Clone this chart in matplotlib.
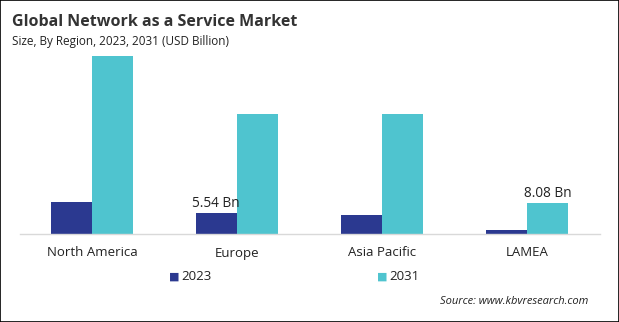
import numpy as np
import matplotlib.pyplot as plt
from matplotlib.patches import Rectangle

plt.rcParams['font.family'] = ['Open Sans', 'DejaVu Sans']

regions = ['North America', 'Europe', 'Asia Pacific', 'LAMEA']
years = ['2023', '2031']
values_2023 = [8.3, 5.54, 4.9, 1.05]
values_2031 = [46.4, 31.2, 31.2, 8.08]
labels_2023 = ['', '5.54 Bn', '', '']
labels_2031 = ['', '', '', '8.08 Bn']

c2023 = '#2b3990'
c2031 = '#4fc4cf'

fig = plt.figure(figsize=(6.19, 3.22), dpi=100)
ax = fig.add_axes([19.5 / 619, 88 / 322, 580 / 619, 184 / 322])

x = np.arange(len(regions))
barWidth = 0.286
b1 = ax.bar(x - barWidth / 2, values_2023, width=barWidth, color=c2023)
b2 = ax.bar(x + barWidth / 2, values_2031, width=barWidth, color=c2031)

for rect, lab in zip(b1, labels_2023):
    if lab:
        ax.text(rect.get_x() + rect.get_width() / 2, rect.get_height() + 0.5, lab,
                ha='center', va='bottom', fontsize=9.8, color='#222222')
for rect, lab in zip(b2, labels_2031):
    if lab:
        ax.text(rect.get_x() + rect.get_width() / 2, rect.get_height() + 0.5, lab,
                ha='center', va='bottom', fontsize=9.8, color='#222222')

ax.set_xlim(-0.5, len(regions) - 0.5)
ax.set_ylim(0, 184 * 0.26)
ax.set_xticks(x)
ax.set_xticklabels(regions, fontsize=9.5, color='#222222')
ax.tick_params(axis='x', length=0, pad=9)
ax.set_yticks([])
for s in ['top', 'right', 'left']:
    ax.spines[s].set_visible(False)
ax.spines['bottom'].set_color('#d9d9d9')
ax.spines['bottom'].set_linewidth(1)

# title / subtitle
fig.text(12 / 619, 1 - 22 / 322, 'Global Network as a Service Market', fontsize=11.5,
         fontweight='bold', color='#333333', va='center', ha='left')
fig.text(12 / 619, 1 - 42 / 322, 'Size, By Region, 2023, 2031 (USD Billion)', fontsize=8.5,
         color='#222222', va='center', ha='left')

# legend
fig.text(174 / 619, 1 - 277 / 322, '\u25a0', fontsize=8, color=c2023, va='center', ha='center')
fig.text(181 / 619, 1 - 277 / 322, years[0], fontsize=9.5, color='#222222', va='center', ha='left')
fig.text(382 / 619, 1 - 277 / 322, '\u25a0', fontsize=8, color=c2031, va='center', ha='center')
fig.text(389 / 619, 1 - 277 / 322, years[1], fontsize=9.5, color='#222222', va='center', ha='left')

fig.text(588 / 619, 1 - 302 / 322, 'Source: www.kbvresearch.com', fontsize=8,
         style='italic', color='#222222', va='center', ha='right')

fig.patches.append(Rectangle((0, 0), 1, 1, transform=fig.transFigure, fill=False,
                             edgecolor='black', linewidth=1.2))

fig.savefig('out.png', dpi=100)
